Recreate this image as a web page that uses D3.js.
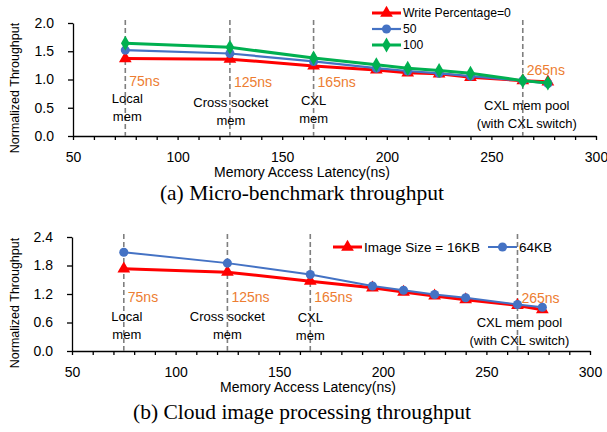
<!DOCTYPE html>
<html>
<head>
<meta charset="utf-8">
<script src="https://cdn.jsdelivr.net/npm/d3@7"></script>
<style>
  body { margin: 0; background: #fff; }
  svg { display: block; font-family: "Liberation Sans", Arial, sans-serif; }
  .axis path, .axis line { stroke: #000; stroke-width: 1.3; }
  .axis text { font-size: 14px; fill: #000; font-family: "Liberation Sans", Arial, sans-serif; }
</style>
</head>
<body>
<svg id="chart" width="607" height="432"></svg>
<script>
// latencies (ns) measured in both experiments
var latency = [75, 125, 165, 195, 210, 225, 240, 265, 277];

// (a) micro-benchmark, three write percentages
var write0   = [1.37, 1.36, 1.24, 1.17, 1.12, 1.10, 1.04, 0.98, 0.96];
var write50  = [1.52, 1.46, 1.32, 1.20, 1.15, 1.11, 1.06, 0.98, 0.93];
var write100 = [1.64, 1.57, 1.38, 1.26, 1.20, 1.16, 1.11, 0.98, 0.94];
var topNames = ["Write Percentage=0", "50", "100"];

// (b) cloud image processing, two image sizes
var img16 = [1.73, 1.66, 1.47, 1.33, 1.24, 1.16, 1.08, 0.96, 0.87];
var img64 = [2.08, 1.85, 1.61, 1.37, 1.28, 1.19, 1.12, 0.98, 0.92];
var botNames = ["Image Size = 16KB", "64KB"];

// memory tiers marked with dashed lines
var tierX = [75, 125, 165, 265];
var tierNs = ["75ns", "125ns", "165ns", "265ns"];
var tierText = [["Local", "mem"], ["Cross socket", "mem"], ["CXL", "mem"], ["CXL mem pool", "(with CXL switch)"]];

var xTicks = [50, 100, 150, 200, 250, 300];
var topYTicks = [0, 0.5, 1.0, 1.5, 2.0];
var botYTicks = [0, 0.6, 1.2, 1.8, 2.4];

var RED = "#ff0000", BLUE = "#4472c4", GREEN = "#00b050", ORANGE = "#ed7d31";

var svg = d3.select("#chart");

function drawPanel(opt) {
  var g = svg.append("g");
  var x = d3.scaleLinear().domain([50, 300]).range(opt.xr);
  var y = d3.scaleLinear().domain([0, opt.ymax]).range(opt.yr);

  // minor ticks every 10ns, labels every 50
  g.append("g")
      .attr("class", "axis")
      .attr("transform", "translate(0," + opt.yr[0] + ")")
      .call(d3.axisBottom(x).tickValues(d3.range(50, 301, 10)).tickSize(4).tickSizeOuter(0)
              .tickFormat(function(d) { return xTicks.indexOf(d) >= 0 ? d : ""; }).tickPadding(12));

  g.append("g")
      .attr("class", "axis")
      .attr("transform", "translate(" + opt.xr[0] + ",0)")
      .call(d3.axisLeft(y).tickValues(opt.yTicks).tickSize(5).tickSizeOuter(0)
              .tickFormat(d3.format(".1f")).tickPadding(14));

  // dashed tier lines + labels
  tierX.forEach(function(t, i) {
    g.append("line")
        .attr("x1", x(t)).attr("x2", x(t))
        .attr("y1", opt.yr[1] - 3).attr("y2", opt.yr[0])
        .style("stroke", "#7f7f7f").style("stroke-width", 1.6)
        .style("stroke-dasharray", "5,3");
    g.append("text")
        .attr("x", x(t) + 4)
        .attr("y", opt.nsY[i])
        .attr("dy", "0.35em")
        .style("font-size", "14px")
        .style("fill", ORANGE)
        .text(tierNs[i]);
    tierText[i].forEach(function(s, j) {
      g.append("text")
          .attr("x", x(t) + opt.lblDx[i])
          .attr("y", opt.lblY[i] + j * 18)
          .attr("dy", "0.35em")
          .style("font-size", "13px")
          .style("text-anchor", "middle")
          .style("fill", "#000")
          .text(s);
    });
  });

  var line = d3.line()
      .x(function(d, i) { return x(latency[i]); })
      .y(function(d) { return y(d); });

  opt.series.forEach(function(s) {
    g.append("path")
        .datum(s.values)
        .attr("d", line)
        .style("fill", "none")
        .style("stroke", s.color)
        .style("stroke-width", s.width);
    g.selectAll(null)
        .data(s.values)
      .enter().append("path")
        .attr("transform", function(d, i) { return "translate(" + x(latency[i]) + "," + y(d) + ")"; })
        .attr("d", d3.symbol().type(s.symbol).size(s.size))
        .style("fill", s.color);
  });

  // legend
  opt.series.forEach(function(s, i) {
    var lx = opt.legend[i][0], ly = opt.legend[i][1];
    g.append("line")
        .attr("x1", lx).attr("x2", lx + 29)
        .attr("y1", ly).attr("y2", ly)
        .style("stroke", s.color).style("stroke-width", s.width);
    g.append("path")
        .attr("transform", "translate(" + (lx + 14.5) + "," + ly + ")")
        .attr("d", d3.symbol().type(s.symbol).size(s.size))
        .style("fill", s.color);
    g.append("text")
        .attr("x", lx + 31)
        .attr("y", ly)
        .attr("dy", "0.35em")
        .style("font-size", opt.legendFont)
        .style("fill", "#000")
        .text(s.name);
  });

  g.append("text")
      .attr("transform", "translate(" + opt.yTitle[0] + "," + opt.yTitle[1] + ") rotate(-90)")
      .attr("dy", "0.35em")
      .style("text-anchor", "middle")
      .style("font-size", "12.5px")
      .text("Normalized Throughput");

  g.append("text")
      .attr("x", opt.xTitle[0])
      .attr("y", opt.xTitle[1])
      .attr("dy", "0.35em")
      .style("text-anchor", "middle")
      .style("font-size", "14px")
      .text("Memory Access Latency(ns)");

  g.append("text")
      .attr("x", 302)
      .attr("y", opt.capY)
      .attr("dy", "0.35em")
      .style("text-anchor", "middle")
      .style("font-family", "'Liberation Serif', 'Times New Roman', serif")
      .style("font-size", "21.5px")
      .text(opt.caption);
}

drawPanel({
  xr: [73, 596], yr: [136, 23], ymax: 2.0, yTicks: topYTicks,
  nsY: [81, 82, 82, 70],
  lblY: [98, 102, 100, 105],
  lblDx: [2, 1, 0, 4],
  series: [
    {name: topNames[0], values: write0, color: RED, width: 3, symbol: d3.symbolTriangle, size: 70},
    {name: topNames[1], values: write50, color: BLUE, width: 2.2, symbol: d3.symbolCircle, size: 65},
    {name: topNames[2], values: write100, color: GREEN, width: 3, symbol: d3.symbolDiamond, size: 65}
  ],
  legend: [[372, 13], [372, 29], [372, 45]], legendFont: "12.2px",
  yTitle: [15, 88], xTitle: [302, 172],
  capY: 192, caption: "(a) Micro-benchmark throughput"
});

drawPanel({
  xr: [72, 590], yr: [351, 237], ymax: 2.4, yTicks: botYTicks,
  nsY: [297, 297, 297, 298],
  lblY: [316, 316, 317, 322],
  lblDx: [3, 0, 0, 2],
  series: [
    {name: botNames[0], values: img16, color: RED, width: 3, symbol: d3.symbolTriangle, size: 70},
    {name: botNames[1], values: img64, color: BLUE, width: 2, symbol: d3.symbolCircle, size: 65}
  ],
  legend: [[333, 247], [488, 247]], legendFont: "13.5px",
  yTitle: [15, 303], xTitle: [308, 387],
  capY: 411, caption: "(b) Cloud image processing throughput"
});
</script>
</body>
</html>
